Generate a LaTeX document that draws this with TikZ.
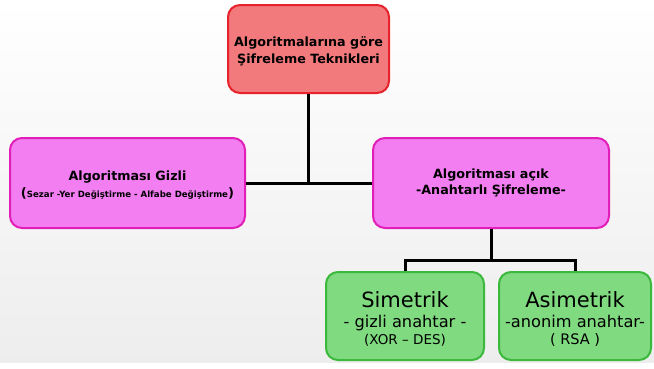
\documentclass[tikz,border=0pt]{standalone}
\usepackage{fontspec}
\setmainfont{DejaVu Sans}
\usetikzlibrary{calc}
\definecolor{kirmizi}{RGB}{242,122,124}
\definecolor{kirmizic}{RGB}{232,34,44}
\definecolor{pembe}{RGB}{242,126,242}
\definecolor{pembec}{RGB}{226,30,184}
\definecolor{yesil}{RGB}{128,218,128}
\definecolor{yesilc}{RGB}{60,184,60}
\begin{document}
\begin{tikzpicture}[x=1pt,y=-1pt,
  kutu/.style={rounded corners=12pt,line width=2pt,align=center,inner sep=0pt},
  baglanti/.style={line width=3pt,black}]
\useasboundingbox (0,0) rectangle (654,368);
\shade[top color=white,bottom color=gray!14] (0,0) rectangle (654,362);

\node[kutu,draw=kirmizic,fill=kirmizi,minimum width=161pt,minimum height=88pt,font=\bfseries\fontsize{12.7}{17}\selectfont] (ana) at (308.5,49) {\rule{0pt}{14pt}Algoritmalarına göre\\Şifreleme Teknikleri};
\node[kutu,draw=pembec,fill=pembe,minimum width=235pt,minimum height=90pt,font=\bfseries\fontsize{12.7}{17}\selectfont] (gizli) at (127.5,183) {\rule{0pt}{13pt}Algoritması Gizli\\{\fontsize{13}{13}\selectfont(}{\fontsize{8.6}{9}\selectfont Sezar -Yer Değiştirme - Alfabe Değiştirme}{\fontsize{13}{13}\selectfont)}};
\node[kutu,draw=pembec,fill=pembe,minimum width=236pt,minimum height=90pt,font=\bfseries\fontsize{12.7}{16}\selectfont] (acik) at (491,183) {Algoritması açık\\-Anahtarlı Şifreleme-};
\node[kutu,draw=yesilc,fill=yesil,minimum width=158pt,minimum height=88pt,font=\fontsize{16.2}{20}\selectfont] (sim) at (405,316) {\rule{0pt}{22pt}{\fontsize{21}{23}\selectfont Simetrik}\\- gizli anahtar -\\[-3pt]{\fontsize{13.5}{14}\selectfont (XOR – DES)}};
\node[kutu,draw=yesilc,fill=yesil,minimum width=152pt,minimum height=88pt,font=\fontsize{16.2}{20}\selectfont] (asim) at (575,316) {\rule{0pt}{22pt}{\fontsize{21}{23}\selectfont Asimetrik}\\-anonim anahtar-\\[-3pt]{\fontsize{14.5}{15}\selectfont ( RSA )}};

\draw[baglanti] (gizli.east) -- (acik.west);
\draw[baglanti] (ana.south) -- (ana.south |- gizli.east);
\coordinate (ayrim) at ($(acik.south)+(0,31)$);
\draw[baglanti] (acik.south) -- (ayrim);
\draw[baglanti] (sim.north) |- (ayrim) -| (asim.north);
\end{tikzpicture}
\end{document}
